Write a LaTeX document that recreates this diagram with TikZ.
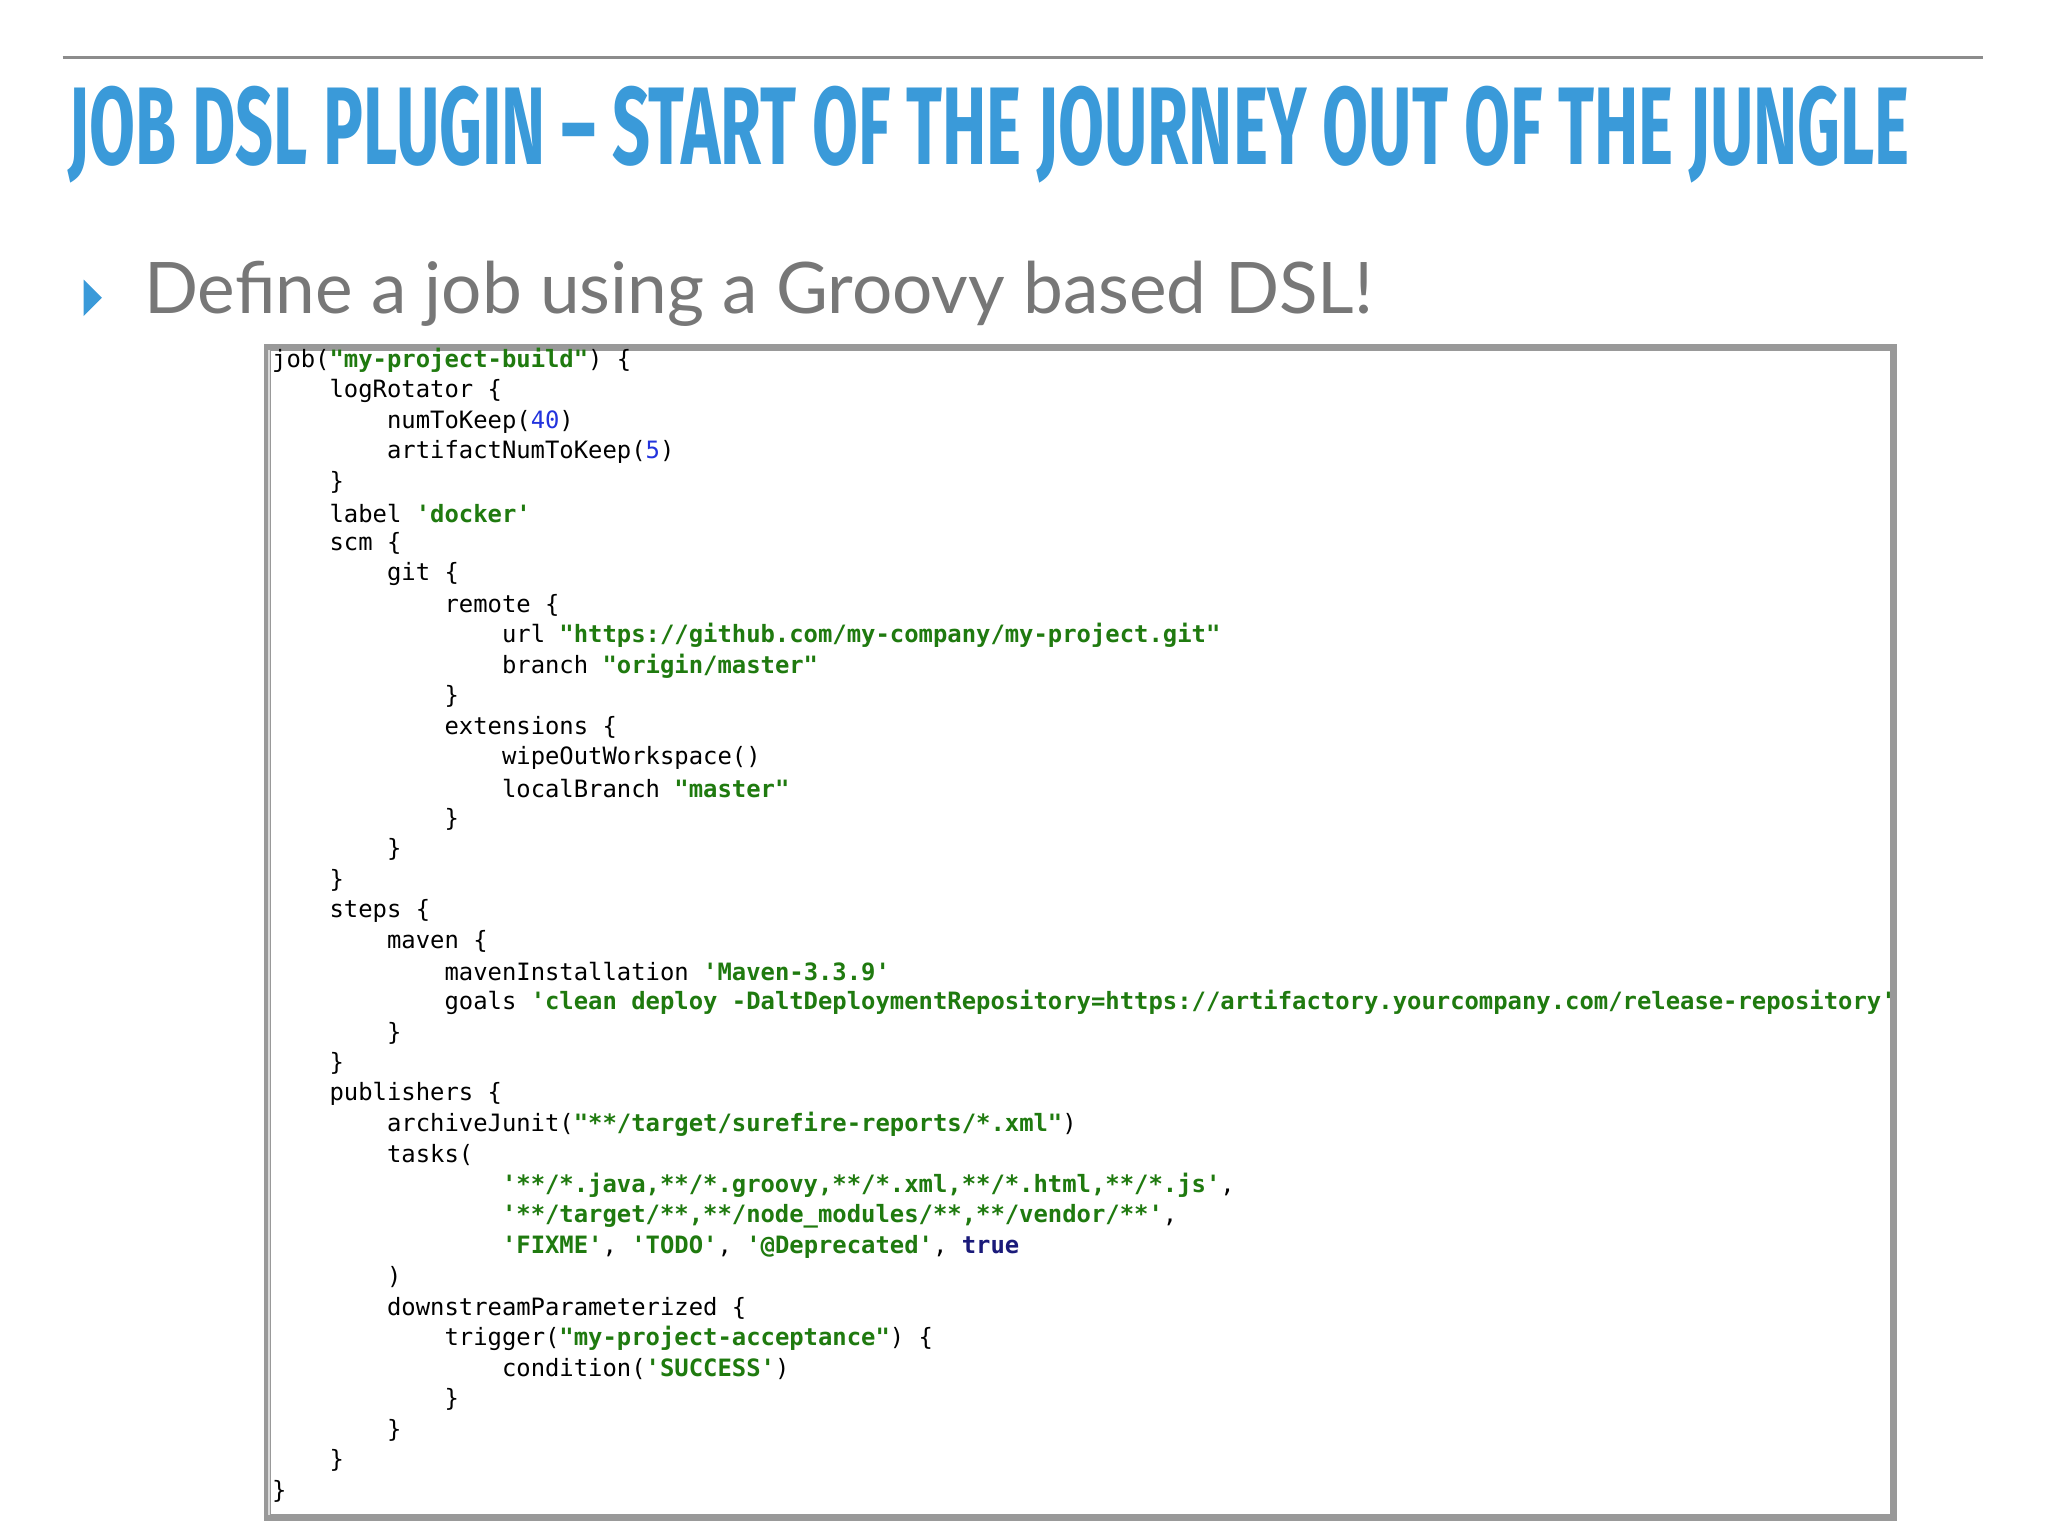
\documentclass[tikz,border=0pt]{standalone}
\usepackage{fontspec}
\setmainfont{Lato}
\newfontfamily\titlefont{Fira Sans}
\newfontfamily\codefont[Ligatures=TeXOff]{DejaVu Sans Mono}
\definecolor{ttl}{HTML}{3A9AD9}
\definecolor{sub}{HTML}{777777}
\definecolor{str}{HTML}{1F7A0F}
\definecolor{num}{HTML}{2233DD}
\definecolor{kw}{HTML}{1A1A7A}
\newcommand{\cs}[1]{\textcolor{str}{\bfseries #1}}
\newcommand{\cn}[1]{\textcolor{num}{#1}}
\newcommand{\ck}[1]{\textcolor{kw}{\bfseries #1}}
\tikzset{x=0.02cm,y=-0.02cm,
 codeln/.style={anchor=west,inner sep=0pt,font=\codefont\fontsize{10.4pt}{12pt}\selectfont}}
\newcommand{\cl}[3]{\node[codeln] (l#1) at ({208+11*#2},{276+23.4*#1}) {#3};}
\begin{document}
\begin{tikzpicture}
\useasboundingbox[fill=white] (0,0) rectangle (1568,1176);
\draw[line width=1.5pt,color=black!45] (48,44) -- (1518,44);
\node[anchor=base west,inner sep=0pt,text=ttl] (title) at (52,126) {\resizebox{28.2cm}{1.2cm}{\titlefont\bfseries JOB DSL PLUGIN \textendash{} START OF THE JOURNEY OUT OF THE JUNGLE}};
\fill[ttl] (64,214) -- (78,228) -- (64,242) -- cycle;
\node[anchor=base west,inner sep=0pt,text=sub,font=\fontsize{31pt}{34pt}\selectfont] (bul) at (110,240) {Define a job using a Groovy based DSL!};
\draw[line width=3pt,color=black!40] (205,266) rectangle (1450,1162);
\draw[line width=0.6pt,color=black!15] (206,268) -- (206,1160);
\cl{0}{0}{job(\cs{"my-project-build"}) \{}
\cl{1}{4}{logRotator \{}
\cl{2}{8}{numToKeep(\cn{40})}
\cl{3}{8}{artifactNumToKeep(\cn{5})}
\cl{4}{4}{\}}
\cl{5}{4}{label \cs{'docker'}}
\cl{6}{4}{scm \{}
\cl{7}{8}{git \{}
\cl{8}{12}{remote \{}
\cl{9}{16}{url \cs{"https://github.com/my-company/my-project.git"}}
\cl{10}{16}{branch \cs{"origin/master"}}
\cl{11}{12}{\}}
\cl{12}{12}{extensions \{}
\cl{13}{16}{wipeOutWorkspace()}
\cl{14}{16}{localBranch \cs{"master"}}
\cl{15}{12}{\}}
\cl{16}{8}{\}}
\cl{17}{4}{\}}
\cl{18}{4}{steps \{}
\cl{19}{8}{maven \{}
\cl{20}{12}{mavenInstallation \cs{'Maven-3.3.9'}}
\cl{21}{12}{goals \cs{'clean deploy -DaltDeploymentRepository=https://artifactory.yourcompany.com/release-repository'}}
\cl{22}{8}{\}}
\cl{23}{4}{\}}
\cl{24}{4}{publishers \{}
\cl{25}{8}{archiveJunit(\cs{"**/target/surefire-reports/*.xml"})}
\cl{26}{8}{tasks(}
\cl{27}{16}{\cs{'**/*.java,**/*.groovy,**/*.xml,**/*.html,**/*.js'},}
\cl{28}{16}{\cs{'**/target/**,**/node\_modules/**,**/vendor/**'},}
\cl{29}{16}{\cs{'FIXME'}, \cs{'TODO'}, \cs{'@Deprecated'}, \ck{true}}
\cl{30}{8}{)}
\cl{31}{8}{downstreamParameterized \{}
\cl{32}{12}{trigger(\cs{"my-project-acceptance"}) \{}
\cl{33}{16}{condition(\cs{'SUCCESS'})}
\cl{34}{12}{\}}
\cl{35}{8}{\}}
\cl{36}{4}{\}}
\cl{37}{0}{\}}
\end{tikzpicture}
\end{document}
